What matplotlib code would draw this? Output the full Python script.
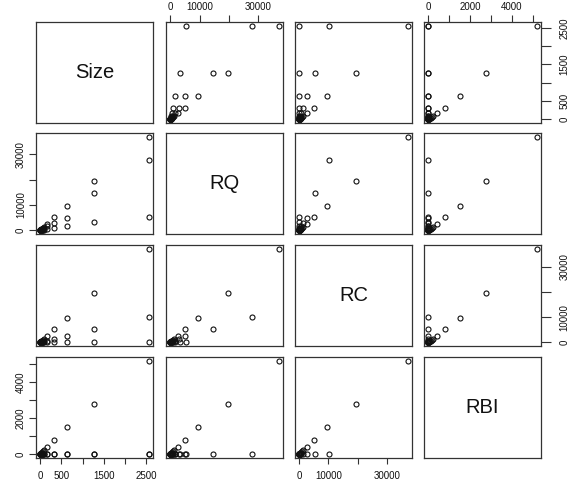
import matplotlib
matplotlib.use("Agg")
import matplotlib.pyplot as plt
import numpy as np

plt.rcParams['font.family'] = ['Liberation Sans', 'DejaVu Sans']

# ---- data (three method types A, B, C at each problem size) ----
sizes = [1, 2, 5, 10, 15, 20, 30, 40, 60, 80, 160, 320, 640, 1280, 2560]

rq_a = [17, 34, 85, 165, 250, 330, 490, 650, 980, 1300, 2600, 5100, 9400, 19500, 36900]
rc_a = [17, 34, 85, 165, 250, 330, 495, 660, 990, 1300, 2600, 5200, 9500, 19600, 37200]
rbi_a = [3, 6, 14, 27, 41, 55, 80, 105, 160, 210, 420, 790, 1520, 2770, 5180]

rq_b = [10, 19, 50, 95, 140, 190, 285, 380, 570, 750, 1500, 3000, 4950, 14600, 27900]
rc_b = [4, 8, 20, 40, 60, 80, 120, 160, 250, 330, 650, 1300, 2600, 5300, 10100]
rbi_b = [0] * 15

rq_c = [3, 6, 15, 30, 45, 60, 90, 120, 180, 240, 470, 900, 1650, 3150, 5200]
rc_c = [0] * 15
rbi_c = [0] * 15

var_names = ["Size", "RQ", "RC", "RBI"]

size_ticks = [0, 500, 1000, 1500, 2000, 2500]
size_ticklabels = ["0", "500", "", "1500", "", "2500"]
rq_ticks = [0, 10000, 20000, 30000]
rq_ticklabels = ["0", "10000", "", "30000"]
rc_ticks = [0, 10000, 20000, 30000]
rc_ticklabels = ["0", "10000", "", "30000"]
rbi_ticks = [0, 1000, 2000, 3000, 4000, 5000]
rbi_ticklabels = ["0", "", "2000", "", "4000", ""]

columns = [
    sizes * 3,
    rq_a + rq_b + rq_c,
    rc_a + rc_b + rc_c,
    rbi_a + rbi_b + rbi_c,
]
ticks = [size_ticks, rq_ticks, rc_ticks, rbi_ticks]
ticklabels = [size_ticklabels, rq_ticklabels, rc_ticklabels, rbi_ticklabels]

# ---- layout ----
W, H = 572, 486
fig = plt.figure(figsize=(W / 100, H / 100), dpi=100)
col_x = [36, 166, 295, 424]
row_y = [22, 133, 245, 357]
pw, ph = 117, 101

frame_col = "#333333"
pt_col = "#111111"
n = 4
base = dict(width=0.8, color=frame_col, labelsize=7, labelcolor="#111111",
            direction="out")
for i in range(n):        # row
    for j in range(n):    # column
        ax = fig.add_axes([col_x[j] / W, 1 - (row_y[i] + ph) / H, pw / W, ph / H])
        for s in ax.spines.values():
            s.set_color(frame_col)
            s.set_linewidth(0.9)
        xs = np.array(columns[j], dtype=float)
        ys = np.array(columns[i], dtype=float)
        if i == j:
            ax.plot(xs, xs, alpha=0)
            ax.margins(0.04)
            ax.text(0.5, 0.5, var_names[i], transform=ax.transAxes,
                    ha="center", va="center", fontsize=14.5, color="#111111")
        else:
            ax.plot(xs, ys, linestyle="none", marker="o", markersize=3.6,
                    markerfacecolor="none", markeredgecolor=pt_col,
                    markeredgewidth=0.8)
            ax.margins(0.04)
        ax.set_xticks([])
        ax.set_yticks([])
        if i == n - 1 and j % 2 == 0:
            ax.set_xticks(ticks[j])
            ax.set_xticklabels(ticklabels[j])
            ax.tick_params(axis="x", bottom=True, labelbottom=True,
                           length=4.1, pad=5, **base)
        if i == 0 and j % 2 == 1:
            ax.set_xticks(ticks[j])
            ax.set_xticklabels(ticklabels[j])
            ax.tick_params(axis="x", top=True, labeltop=True,
                           bottom=False, labelbottom=False,
                           length=4.8, pad=2.2, **base)
        if j == 0 and i % 2 == 1:
            ax.set_yticks(ticks[i])
            ax.set_yticklabels(ticklabels[i])
            ax.tick_params(axis="y", left=True, labelleft=True,
                           length=4.8, pad=2.4, **base)
            for lbl in ax.get_yticklabels():
                lbl.set_rotation(90)
                lbl.set_va("center")
        if j == n - 1 and i % 2 == 0:
            ax.set_yticks(ticks[i])
            ax.set_yticklabels(ticklabels[i])
            ax.tick_params(axis="y", right=True, labelright=True,
                           left=False, labelleft=False,
                           length=7.2, pad=6.2, **base)
            for lbl in ax.get_yticklabels():
                lbl.set_rotation(90)
                lbl.set_va("center")
        ax.set_facecolor("white")

fig.savefig("out.png", dpi=100, facecolor="white")
